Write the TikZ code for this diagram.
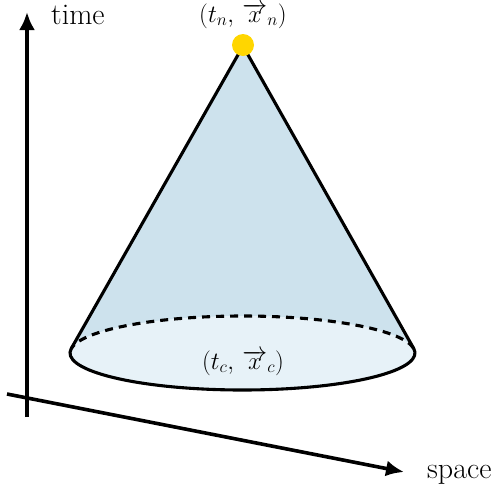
\documentclass[tikz,border=0pt]{standalone}
\usetikzlibrary{arrows.meta}
\definecolor{conefill}{RGB}{205,226,237}
\definecolor{basefill}{RGB}{231,242,248}
\definecolor{dotyellow}{RGB}{255,214,0}
\begin{document}
\begin{tikzpicture}[x=1pt,y=1pt,
  axis/.style={line width=3.6pt,-{Latex[length=18pt,width=16pt]}},
  outline/.style={line width=3.1pt},
  lbl/.style={inner sep=0pt,font=\fontsize{30}{36}\selectfont},
  mlbl/.style={inner sep=0pt,font=\fontsize{25}{30}\selectfont}]
\useasboundingbox (0,0) rectangle (501,-496);
% axes
\coordinate (vbot) at (27,-417);
\coordinate (vtop) at (27,-12);
\coordinate (hstart) at (7,-394);
\coordinate (hend) at (404,-472);
\draw[axis] (vbot) -- (vtop);
\draw[axis] (hstart) -- (hend);
\node[lbl,anchor=base west] (time) at (51,-24) {time};
\node[lbl,anchor=base west] (space) at (427,-478) {space};
% cone
\coordinate (apex) at (243,-46);
\coordinate (C) at (242.5,-353);
\path (C) ++(173.03:172.5 and 37) coordinate (L);
\path (C) ++(6.97:172.5 and 37) coordinate (R);
\fill[conefill] (apex) -- (L) -- (R) -- cycle;
\fill[basefill] (C) ellipse[x radius=172.5, y radius=37];
\draw[outline,dash pattern=on 8pt off 6pt] (R) arc[start angle=6.97,end angle=173.03,x radius=172.5,y radius=37];
\draw[outline,line join=round] (R) -- (apex) -- (L) arc[start angle=173.03,end angle=366.97,x radius=172.5,y radius=37];
\fill[dotyellow] (243,-45) circle (11) node (top) {};
\node[mlbl,anchor=base] (tn) at (243,-22) {$(t_n,\,\overrightarrow{x}_n)$};
\node[mlbl,anchor=base] (tc) at (243,-369) {$(t_c,\,\overrightarrow{x}_c)$};
\end{tikzpicture}
\end{document}
